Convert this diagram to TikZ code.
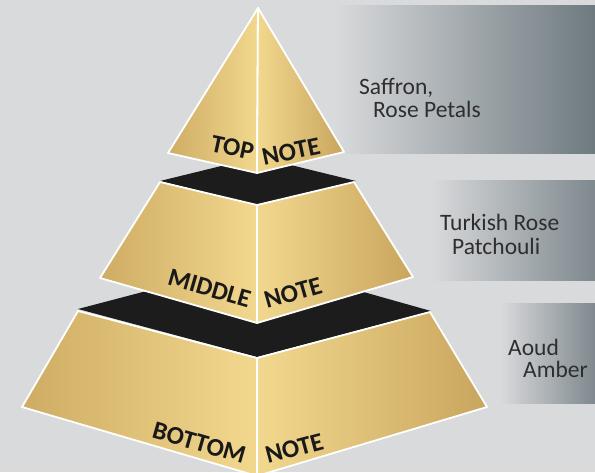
\documentclass[tikz,border=0pt]{standalone}
\usepackage{fontspec}
\setmainfont{Carlito}
\definecolor{bg}{HTML}{D9DADC}
\definecolor{band}{HTML}{6E7A80}
\definecolor{goldL}{HTML}{F2D88E}
\definecolor{goldM}{HTML}{E6C77C}
\definecolor{goldD}{HTML}{C9A55E}
\definecolor{slab}{HTML}{1C1C1C}
\definecolor{txt}{HTML}{2E2E2E}
\tikzset{
  face/.style={draw=white, line width=1.8pt, line join=round},
  lface/.style={face, left color=goldD!80!goldM, right color=goldL},
  rface/.style={face, left color=goldL, right color=goldD},
  tierlabel/.style={font=\fontsize{25.5}{25.5}\selectfont\bfseries, text=black!90, inner sep=0pt},
  notetext/.style={font=\fontsize{23.5}{24}\selectfont, text=txt, inner sep=0pt, anchor=base west},
}
\begin{document}
\begin{tikzpicture}[x=1pt,y=-1pt]
\useasboundingbox (0,0) rectangle (595,472);
\fill[bg] (0,0) rectangle (595,472);
% gradient bands
\shade[left color=bg, right color=band] (335,5) rectangle (595,153);
\shade[left color=bg, right color=band!85!bg] (430,180) rectangle (595,280);
\shade[left color=bg, right color=band!85!bg] (500,303) rectangle (595,403);
% coordinates
\coordinate (A) at (258,8);
\coordinate (TL) at (168,153);
\coordinate (TM) at (257,173);
\coordinate (TR) at (344,152);
\coordinate (ML1) at (160,182);
\coordinate (MM1) at (257,205);
\coordinate (MR1) at (354,182);
\coordinate (ML2) at (100,278);
\coordinate (MM2) at (257,323);
\coordinate (MR2) at (413,277);
\coordinate (BL1) at (78,311);
\coordinate (BM1) at (257,358);
\coordinate (BR1) at (430,312);
\coordinate (BL2) at (22,407);
\coordinate (BM2) at (257,476);
\coordinate (BR2) at (487,407);
% black slabs
\fill[slab] (78,309) -- (257,262) -- (431,311) -- (257,357) -- cycle;
\fill[slab] (160,181) -- (258,157) -- (356,181) -- (257,205) -- cycle;
% bottom tier
\shade[lface] (BL1) -- (BM1) -- (BM2) -- (BL2) -- cycle;
\shade[rface] (BM1) -- (BR1) -- (BR2) -- (BM2) -- cycle;
% middle tier
\shade[lface] (ML1) -- (MM1) -- (MM2) -- (ML2) -- cycle;
\shade[rface] (MM1) -- (MR1) -- (MR2) -- (MM2) -- cycle;
% top tier
\shade[lface] (A) -- (TM) -- (TL) -- cycle;
\shade[rface] (A) -- (TR) -- (TM) -- cycle;
% labels on pyramid
\node[tierlabel, anchor=base east, rotate=-12] (top) at (252,160) {TOP};
\node[tierlabel, anchor=base west, rotate=12] (topnote) at (264,166) {NOTE};
\node[tierlabel, anchor=base east, rotate=-16] (mid) at (248,308) {MIDDLE};
\node[tierlabel, anchor=base west, rotate=16] (midnote) at (267,309) {NOTE};
\node[tierlabel, anchor=base east, rotate=-16] (bot) at (243,464) {BOTTOM};
\node[tierlabel, anchor=base west, rotate=15] (botnote) at (268,464) {NOTE};
% right texts
\node[notetext] (t1a) at (359,94) {Saffron,};
\node[notetext] (t1b) at (373,117) {Rose Petals};
\node[notetext] (t2a) at (440,230) {Turkish Rose};
\node[notetext] (t2b) at (452,254) {Patchouli};
\node[notetext] (t3a) at (508,355) {Aoud};
\node[notetext] (t3b) at (523,377) {Amber};
\end{tikzpicture}
\end{document}
